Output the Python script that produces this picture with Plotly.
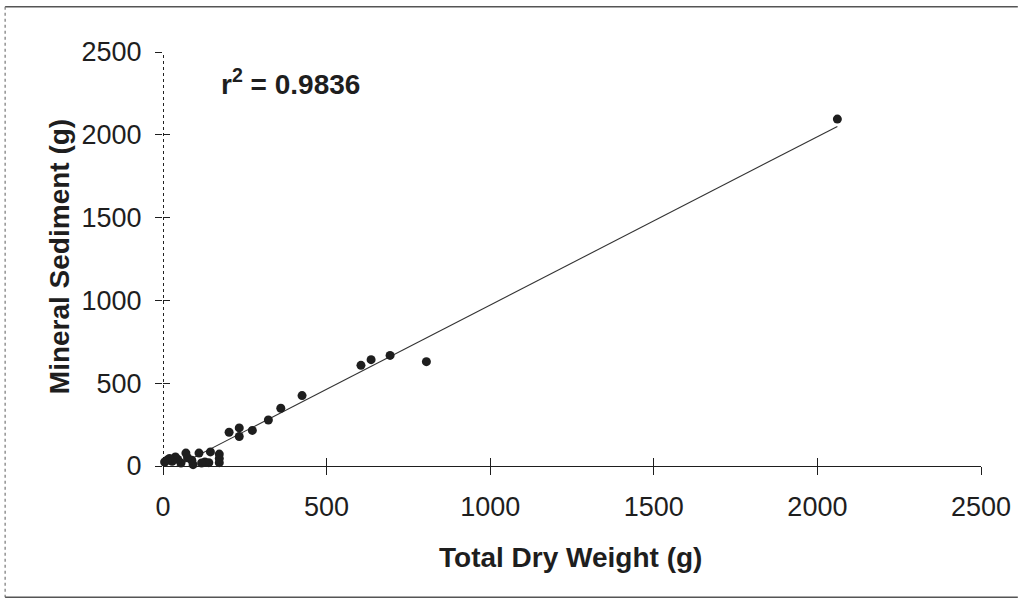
import numpy as np
import plotly.graph_objects as go

# ---- data ----
total_dry_weight = [2061, 805, 694, 636, 605, 425, 360, 322, 273, 233, 233, 202,
                    172, 172, 172, 145, 140, 128, 118, 110, 92, 88, 75, 70,
                    55, 45, 38, 28, 20, 12, 5]
mineral_sediment = [2095, 630, 668, 642, 608, 425, 349, 278, 215, 230, 178, 204,
                    72, 45, 20, 85, 20, 24, 18, 78, 8, 35, 50, 78,
                    18, 40, 55, 28, 45, 34, 24]
x_ticks = [0, 500, 1000, 1500, 2000, 2500]
y_ticks = [0, 500, 1000, 1500, 2000, 2500]
r2_label = "r<sup>2</sup> = 0.9836"
x_title = "Total Dry Weight (g)"
y_title = "Mineral Sediment (g)"

# linear trendline fitted to the data
slope, intercept = np.polyfit(total_dry_weight, mineral_sediment, 1)
fit_x = [min(total_dry_weight), max(total_dry_weight)]
fit_y = [slope * v + intercept for v in fit_x]

FONT = "Liberation Sans, Arial, Helvetica, sans-serif"
INK = "#1e1e1e"
xr = [x_ticks[0], x_ticks[-1]]
yr = [y_ticks[0], y_ticks[-1]]

fig = go.Figure()
fig.add_trace(go.Scatter(x=fit_x, y=fit_y, mode="lines",
                         line=dict(color="#333333", width=1.1),
                         hoverinfo="skip", showlegend=False, cliponaxis=False))
fig.add_trace(go.Scatter(x=total_dry_weight, y=mineral_sediment, mode="markers",
                         marker=dict(size=9, color=INK, line=dict(width=0)),
                         showlegend=False, cliponaxis=False))
# empty trace that carries the overlay axes (inner half of the crossing ticks)
fig.add_trace(go.Scatter(x=[None], y=[None], xaxis="x2", yaxis="y2",
                         showlegend=False, hoverinfo="skip"))

shapes = []
# dotted y axis line
shapes.append(dict(type="line", xref="x", yref="y", x0=xr[0], x1=xr[0],
                   y0=yr[0], y1=yr[1],
                   line=dict(color="#222222", width=2, dash="dot"), layer="below"))
# outer frame (top, left, bottom)
frame = dict(color="#555555", width=1.5)
shapes.append(dict(type="line", xref="paper", yref="paper", x0=-0.193, x1=1.045,
                   y0=1.109, y1=1.109, line=frame))
shapes.append(dict(type="line", xref="paper", yref="paper", x0=-0.193, x1=-0.193,
                   y0=1.109, y1=-0.317, line=dict(color="#777777", width=1.2, dash="dot")))
shapes.append(dict(type="line", xref="paper", yref="paper", x0=-0.193, x1=1.045,
                   y0=-0.317, y1=-0.317, line=frame))

tickfont = dict(size=27, family=FONT, color=INK)
fig.update_layout(
    width=1023, height=603,
    margin=dict(l=163, r=40, t=52, b=137),
    paper_bgcolor="white", plot_bgcolor="white",
    font=dict(family=FONT, color=INK, size=27),
    xaxis=dict(range=xr, tickvals=x_ticks, ticks="outside", ticklen=8,
               tickwidth=1.3, tickcolor=INK,
               showgrid=False, zeroline=False, showline=True, linecolor=INK,
               linewidth=1.3, ticklabelstandoff=8, tickfont=tickfont),
    yaxis=dict(range=yr, tickvals=y_ticks, ticks="outside", ticklen=7,
               tickwidth=1.3, tickcolor=INK,
               showgrid=False, zeroline=False, showline=False,
               ticklabelstandoff=8, tickfont=tickfont),
    xaxis2=dict(range=xr, tickvals=x_ticks, ticks="inside", ticklen=8,
                tickwidth=1.3, tickcolor=INK, overlaying="x", anchor="y2",
                side="bottom", showticklabels=False, showgrid=False,
                zeroline=False, showline=False),
    yaxis2=dict(range=yr, tickvals=y_ticks, ticks="inside", ticklen=7,
                tickwidth=1.3, tickcolor=INK, overlaying="y", anchor="x2",
                side="left", showticklabels=False, showgrid=False,
                zeroline=False, showline=False),
    shapes=shapes,
    annotations=[
        dict(text=r2_label, xref="paper", yref="paper", x=0.069, y=0.9275,
             xanchor="left", yanchor="middle", showarrow=False,
             font=dict(size=28, family=FONT, color=INK, weight="bold")),
        dict(text=x_title, xref="paper", yref="paper", x=0.4976, y=-0.222,
             xanchor="center", yanchor="middle", showarrow=False,
             font=dict(size=28, family=FONT, color=INK, weight="bold")),
        dict(text=y_title, xref="paper", yref="paper", x=-0.1256, y=0.505,
             xanchor="center", yanchor="middle", textangle=-90, showarrow=False,
             font=dict(size=28, family=FONT, color=INK, weight="bold")),
    ],
)

fig.write_html("out.html")
